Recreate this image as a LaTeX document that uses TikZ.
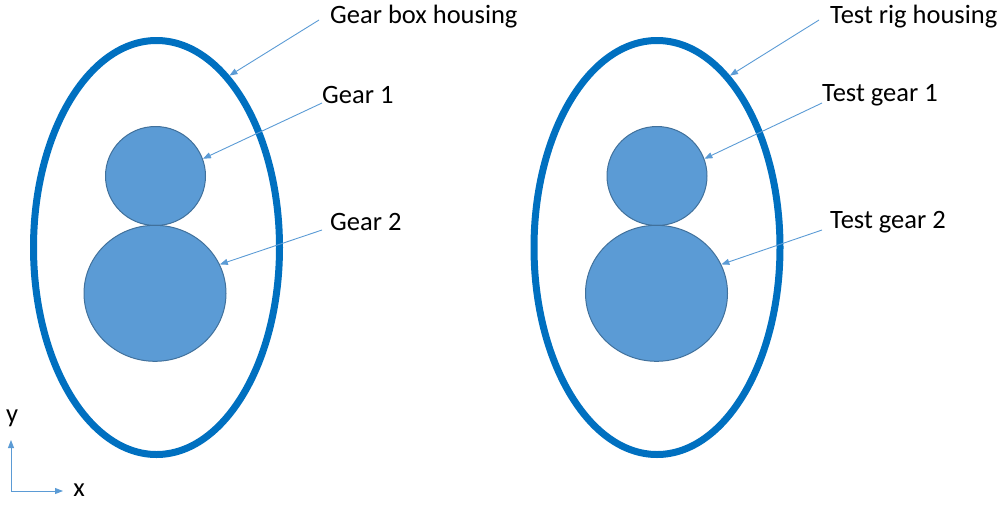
\documentclass[tikz,border=0pt]{standalone}
\usepackage{fontspec}
\setmainfont{Carlito}
\usetikzlibrary{shapes.geometric,arrows.meta}
\definecolor{housing}{HTML}{0070C0}
\definecolor{gearfill}{HTML}{5B9BD5}
\definecolor{gearline}{HTML}{41719C}
\definecolor{callout}{HTML}{5B9BD5}
\tikzset{
  housingshape/.style={ellipse, draw=housing, line width=7pt, inner sep=0pt,
    minimum width=246pt, minimum height=414pt},
  gearshape/.style={ellipse, draw=gearline, fill=gearfill, line width=1pt, inner sep=0pt},
  lbl/.style={anchor=west, font=\fontsize{26.5}{30}\selectfont, inner sep=0pt},
  pointer/.style={draw=callout, line width=0.9pt, -{Triangle[length=8pt,width=6pt]}},
  axis/.style={draw=callout, line width=0.9pt, -{Triangle[length=8pt,width=6pt]}},
  axlbl/.style={font=\fontsize{26.5}{30}\selectfont, inner sep=0pt}
}
\begin{document}
\begin{tikzpicture}[x=1pt,y=-1pt]
\useasboundingbox (0,0) rectangle (1001,504);

% left assembly: gear box
\node[housingshape] (hL) at (156.5,247.5) {};
\node[gearshape, minimum width=100pt, minimum height=99pt] (g1L) at (155.5,176) {};
\node[gearshape, minimum width=142pt, minimum height=136pt] (g2L) at (155,293.3) {};
\node[lbl] (tHL) at (330,17) {Gear box housing};
\node[lbl] (tG1L) at (322,95) {Gear 1};
\node[lbl] (tG2L) at (330,222) {Gear 2};
\draw[pointer] ([xshift=-11pt,yshift=-3pt]tHL.west) -- (hL.67);
\draw[pointer] ([xshift=0pt,yshift=-8pt]tG1L.west) -- (g1L.20);
\draw[pointer] ([xshift=-8pt,yshift=-8pt]tG2L.west) -- (g2L.24);

% right assembly: test rig
\node[housingshape] (hR) at (657,247.5) {};
\node[gearshape, minimum width=100pt, minimum height=99pt] (g1R) at (657,176) {};
\node[gearshape, minimum width=142pt, minimum height=136pt] (g2R) at (656.5,293.3) {};
\node[lbl] (tHR) at (830,17) {Test rig housing};
\node[lbl] (tG1R) at (822,95) {Test gear 1};
\node[lbl] (tG2R) at (830,222) {Test gear 2};
\draw[pointer] ([xshift=-11pt,yshift=-3pt]tHR.west) -- (hR.67);
\draw[pointer] ([xshift=0pt,yshift=-8pt]tG1R.west) -- (g1R.20);
\draw[pointer] ([xshift=-8pt,yshift=-8pt]tG2R.west) -- (g2R.24);

% coordinate axes
\coordinate (o) at (11,491);
\coordinate (ay) at (11,440);
\coordinate (ax) at (63,491);
\draw[axis] (o) -- (ay);
\draw[axis] (o) -- (ax);
\node[axlbl] (ly) at (12,418) {y};
\node[axlbl] (lx) at (79,490) {x};
\end{tikzpicture}
\end{document}
